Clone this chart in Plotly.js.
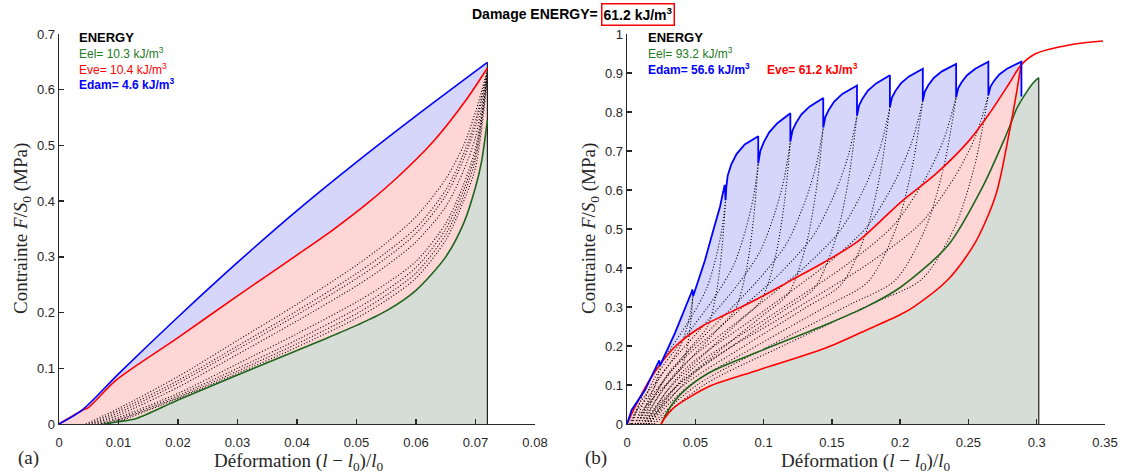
<!DOCTYPE html>
<html>
<head>
<meta charset="utf-8">
<script src="https://cdn.plot.ly/plotly-3.0.1.min.js"></script>
<style>html,body{margin:0;padding:0;background:#fff;}#chart{width:1121px;height:473px;}</style>
</head>
<body>
<div id="chart"></div>
<script>
// ---------- Panel (a) data ----------
const lBlueX = [0, 0.004, 0.01, 0.02, 0.03, 0.04, 0.05, 0.06, 0.072];
const lBlueY = [0, 0.026, 0.09, 0.192, 0.29, 0.383, 0.47, 0.553, 0.649];
const lRedX = [0, 0.004, 0.005, 0.0095, 0.02, 0.03, 0.0405, 0.0461, 0.0517, 0.0573, 0.0629, 0.0685, 0.072];
const lRedY = [0, 0.025, 0.03, 0.078, 0.155, 0.23, 0.307, 0.349, 0.395, 0.447, 0.507, 0.583, 0.639];
const lGreenX = [0.0076, 0.01, 0.013, 0.02, 0.03, 0.04, 0.045, 0.05, 0.055, 0.06, 0.065, 0.068, 0.07, 0.071, 0.072];
const lGreenY = [0, 0.004, 0.01, 0.043, 0.088, 0.132, 0.154, 0.177, 0.203, 0.24, 0.3, 0.36, 0.425, 0.47, 0.545];
const lEndX = 0.072, lEndTop = 0.649;
const lDotStart = [0.0045, 0.005, 0.0055, 0.006, 0.0065, 0.007, 0.0072, 0.0075];
const lDotGrid = [0.01, 0.02, 0.03, 0.04, 0.05, 0.055, 0.06, 0.065, 0.068, 0.07, 0.072];
const lDotY = [
  [0.028, 0.085, 0.15, 0.215, 0.285, 0.325, 0.372, 0.44, 0.5, 0.56, 0.636],
  [0.024, 0.078, 0.14, 0.203, 0.27, 0.308, 0.352, 0.42, 0.485, 0.545, 0.634],
  [0.02, 0.073, 0.134, 0.196, 0.261, 0.298, 0.342, 0.41, 0.475, 0.535, 0.632],
  [0.016, 0.066, 0.125, 0.185, 0.248, 0.284, 0.327, 0.39, 0.455, 0.515, 0.63],
  [0.012, 0.055, 0.108, 0.162, 0.219, 0.252, 0.292, 0.36, 0.43, 0.495, 0.628],
  [0.009, 0.051, 0.1, 0.151, 0.207, 0.24, 0.281, 0.35, 0.42, 0.485, 0.626],
  [0.007, 0.048, 0.095, 0.144, 0.198, 0.231, 0.271, 0.34, 0.41, 0.475, 0.624],
  [0.005, 0.046, 0.091, 0.138, 0.19, 0.222, 0.262, 0.33, 0.4, 0.46, 0.62]
];

// ---------- Panel (b) data ----------
const rBlueX = [0, 0.0034, 0.0132, 0.0229, 0.0236, 0.0242, 0.0351, 0.0474, 0.0479, 0.0485, 0.0571, 0.0632, 0.0681, 0.0715,
  0.0722, 0.0727, 0.0737, 0.0762, 0.0802, 0.0862, 0.0961,
  0.0961, 0.0966, 0.0976, 0.1001, 0.1041, 0.1101, 0.1196,
  0.1196, 0.1201, 0.1211, 0.1236, 0.1276, 0.1336, 0.1437,
  0.1437, 0.1442, 0.1452, 0.1477, 0.1517, 0.1577, 0.1684,
  0.1684, 0.1689, 0.1699, 0.1724, 0.1764, 0.1824, 0.1925,
  0.1925, 0.193, 0.194, 0.1965, 0.2005, 0.2065, 0.2166,
  0.2166, 0.2171, 0.2181, 0.2206, 0.2246, 0.2306, 0.241,
  0.241, 0.2415, 0.2425, 0.245, 0.249, 0.255, 0.2646,
  0.2646, 0.2651, 0.2661, 0.2686, 0.2726, 0.2786, 0.2888,
  0.2888];
const rBlueY = [0, 0.036, 0.087, 0.156, 0.163, 0.150, 0.233, 0.339, 0.345, 0.328, 0.42, 0.497, 0.557, 0.613,
  0.574, 0.6068, 0.6363, 0.6642, 0.6921, 0.7167, 0.738,
  0.668, 0.6835, 0.7003, 0.7222, 0.748, 0.7712, 0.797,
  0.724, 0.7374, 0.752, 0.771, 0.7934, 0.8136, 0.836,
  0.760, 0.773, 0.787, 0.8054, 0.827, 0.8464, 0.868,
  0.791, 0.8034, 0.8168, 0.8343, 0.8549, 0.8734, 0.894,
  0.812, 0.8239, 0.8368, 0.8536, 0.8734, 0.8912, 0.911,
  0.829, 0.8403, 0.8525, 0.8685, 0.8873, 0.9042, 0.923,
  0.838, 0.8489, 0.8608, 0.8762, 0.8944, 0.9108, 0.929,
  0.843, 0.8533, 0.8645, 0.8791, 0.8963, 0.9118, 0.929,
  0.840];
const rRedUpX = [0, 0.0059, 0.018, 0.0351, 0.0547, 0.0718, 0.0961, 0.1205, 0.145, 0.169, 0.2011, 0.2257, 0.2503, 0.2651, 0.2798, 0.2884, 0.2995, 0.324, 0.3485];
const rRedUpY = [0, 0.044, 0.121, 0.198, 0.25, 0.28, 0.322, 0.369, 0.416, 0.468, 0.571, 0.64, 0.726, 0.795, 0.873, 0.92, 0.95, 0.972, 0.982];
const rRedLowX = [0.025, 0.027, 0.03, 0.035, 0.06, 0.096, 0.145, 0.1755, 0.2, 0.2103, 0.2353, 0.2553, 0.2703, 0.2804, 0.2854, 0.2888];
const rRedLowY = [0, 0.012, 0.026, 0.044, 0.096, 0.138, 0.194, 0.241, 0.28, 0.301, 0.371, 0.467, 0.59, 0.757, 0.853, 0.925];
const rGreenX = [0.025, 0.0303, 0.04, 0.0595, 0.0961, 0.145, 0.1755, 0.2, 0.2353, 0.2604, 0.2753, 0.2803, 0.2854, 0.2929, 0.2975, 0.3015];
const rGreenY = [0, 0.036, 0.079, 0.13, 0.185, 0.254, 0.301, 0.35, 0.459, 0.608, 0.722, 0.764, 0.809, 0.853, 0.875, 0.888];
const rEndX = 0.3015, rEndTop = 0.888;
const rDotX = [
  [0.002, 0.0053, 0.0108, 0.0163, 0.0196, 0.0218, 0.0231, 0.024],
  [0.003, 0.0098, 0.0211, 0.0324, 0.0392, 0.0438, 0.0465, 0.0483],
  [0.004, 0.0142, 0.0313, 0.0483, 0.0586, 0.0654, 0.0695, 0.0722],
  [0.006, 0.0195, 0.042, 0.0646, 0.0781, 0.0871, 0.0925, 0.0961],
  [0.008, 0.0247, 0.0526, 0.0805, 0.0973, 0.1084, 0.1151, 0.1196],
  [0.010, 0.0301, 0.0635, 0.0969, 0.117, 0.1303, 0.1384, 0.1437],
  [0.012, 0.0355, 0.0746, 0.1137, 0.1371, 0.1528, 0.1621, 0.1684],
  [0.014, 0.0408, 0.0854, 0.13, 0.1568, 0.1747, 0.1854, 0.1925],
  [0.016, 0.0461, 0.0962, 0.1464, 0.1765, 0.1965, 0.2086, 0.2166],
  [0.018, 0.0515, 0.1072, 0.163, 0.1964, 0.2187, 0.2321, 0.241],
  [0.020, 0.0567, 0.1178, 0.179, 0.2157, 0.2401, 0.2548, 0.2646],
  [0.012, 0.0246, 0.0456, 0.0667, 0.0793, 0.0877, 0.0927, 0.0961],
  [0.014, 0.0298, 0.0562, 0.0826, 0.0985, 0.109, 0.1154, 0.1196],
  [0.016, 0.0352, 0.0671, 0.099, 0.1182, 0.1309, 0.1386, 0.1437],
  [0.008, 0.0176, 0.0337, 0.0497, 0.0594, 0.0658, 0.0696, 0.0722],
  [0.006, 0.0123, 0.0229, 0.0335, 0.0398, 0.0441, 0.0466, 0.0483],
  [0.008, 0.0321, 0.0722, 0.1123, 0.1363, 0.1524, 0.162, 0.1684],
  [0.010, 0.0374, 0.083, 0.1286, 0.156, 0.1743, 0.1852, 0.1925],
  [0.012, 0.0427, 0.0938, 0.145, 0.1757, 0.1961, 0.2084, 0.2166],
  [0.014, 0.0481, 0.1048, 0.1616, 0.1956, 0.2183, 0.2319, 0.241],
  [0.016, 0.0533, 0.1154, 0.1776, 0.2149, 0.2397, 0.2547, 0.2646]
];
const rDotY = [
  [0, 0.0255, 0.0495, 0.0735, 0.0915, 0.1125, 0.1305, 0.15],
  [0, 0.0558, 0.1082, 0.1607, 0.2001, 0.246, 0.2854, 0.328],
  [0, 0.0976, 0.1894, 0.2813, 0.3501, 0.4305, 0.4994, 0.574],
  [0, 0.1136, 0.2204, 0.3273, 0.4075, 0.501, 0.5812, 0.668],
  [0, 0.1231, 0.2389, 0.3548, 0.4416, 0.543, 0.6299, 0.724],
  [0, 0.1292, 0.2508, 0.3724, 0.4636, 0.57, 0.6612, 0.76],
  [0, 0.0949, 0.1938, 0.2887, 0.348, 0.4746, 0.6249, 0.791],
  [0, 0.0974, 0.1989, 0.2964, 0.3573, 0.4872, 0.6415, 0.812],
  [0, 0.0995, 0.2031, 0.3026, 0.3648, 0.4974, 0.6549, 0.829],
  [0, 0.1006, 0.2053, 0.3059, 0.3687, 0.5028, 0.662, 0.838],
  [0, 0.1012, 0.2065, 0.3077, 0.3709, 0.5058, 0.666, 0.843],
  [0, 0.0802, 0.1637, 0.2438, 0.2939, 0.4008, 0.5277, 0.668],
  [0, 0.0869, 0.1774, 0.2643, 0.3186, 0.4344, 0.572, 0.724],
  [0, 0.0912, 0.1862, 0.2774, 0.3344, 0.456, 0.6004, 0.76],
  [0, 0.0689, 0.1406, 0.2095, 0.2526, 0.3444, 0.4535, 0.574],
  [0, 0.0394, 0.0804, 0.1197, 0.1443, 0.1968, 0.2591, 0.328],
  [0, 0.1345, 0.261, 0.3876, 0.4825, 0.5933, 0.6882, 0.791],
  [0, 0.138, 0.268, 0.3979, 0.4953, 0.609, 0.7064, 0.812],
  [0, 0.1409, 0.2736, 0.4062, 0.5057, 0.6218, 0.7212, 0.829],
  [0, 0.1425, 0.2765, 0.4106, 0.5112, 0.6285, 0.7291, 0.838],
  [0, 0.1433, 0.2782, 0.4131, 0.5142, 0.6323, 0.7334, 0.843]
];

// ---------- Texts ----------
const titleMain = '<b>Damage ENERGY=</b>';
const titleBox = '<b>61.2 kJ/m<sup>3</sup></b>';
const leftTexts = ['<b>ENERGY</b>', 'Eel= 10.3 kJ/m<sup>3</sup>', 'Eve= 10.4 kJ/m<sup>3</sup>', '<b>Edam= 4.6 kJ/m<sup>3</sup></b>'];
const rightTexts = ['<b>ENERGY</b>', 'Eel= 93.2 kJ/m<sup>3</sup>', '<b>Edam= 56.6 kJ/m<sup>3</sup></b>', '<b>Eve= 61.2 kJ/m<sup>3</sup></b>'];
const xTitle = 'Déformation (<i>l</i> − <i>l</i><sub>0</sub>)/<i>l</i><sub>0</sub>';
const yTitle = 'Contrainte <i>F</i>/<i>S</i><sub>0</sub> (MPa)';

// ---------- Styles ----------
const W = 1121, H = 473;
const BLUE = '#0000ff', RED = '#ff0000', GREEN = '#1d661d', TXTGREEN = '#237a23';
const FBLUE = 'rgb(214,214,251)', FPINK = 'rgb(255,214,214)', FGRAY = 'rgb(214,221,214)';
const DOT = {color: '#000', width: 1.1, dash: '1px,2px'};
const SANS = 'Liberation Sans, Arial, sans-serif';
const SERIF = 'Liberation Serif, Times New Roman, serif';

function fillTr(x, y, color, xa, ya, shape) {
  return {x: x, y: y, xaxis: xa, yaxis: ya, type: 'scatter', mode: 'lines', fill: 'tozeroy',
    fillcolor: color, line: {width: 0, shape: shape || 'spline', smoothing: 0.8}, hoverinfo: 'skip'};
}
function lineTr(x, y, color, width, xa, ya, shape) {
  return {x: x, y: y, xaxis: xa, yaxis: ya, type: 'scatter', mode: 'lines',
    line: {color: color, width: width, shape: shape || 'spline', smoothing: 0.8}, hoverinfo: 'skip'};
}

const traces = [];
// Panel a
traces.push(fillTr(lBlueX, lBlueY, FBLUE, 'x', 'y'));
traces.push(fillTr(lRedX, lRedY, FPINK, 'x', 'y'));
traces.push(fillTr(lGreenX, lGreenY, FGRAY, 'x', 'y'));
lDotY.forEach((row, i) => {
  traces.push({x: [lDotStart[i]].concat(lDotGrid), y: [0].concat(row), xaxis: 'x', yaxis: 'y', type: 'scatter', mode: 'lines',
    line: Object.assign({shape: 'spline', smoothing: 0.8}, DOT), hoverinfo: 'skip'});
});
traces.push(lineTr([lEndX, lEndX], [0, lEndTop], '#222', 1.2, 'x', 'y', 'linear'));
traces.push(lineTr(lGreenX, lGreenY, GREEN, 1.6, 'x', 'y'));
traces.push(lineTr(lRedX, lRedY, RED, 1.6, 'x', 'y'));
traces.push(lineTr(lBlueX, lBlueY, BLUE, 1.6, 'x', 'y'));

// Panel b
const nUp = rRedUpX.indexOf(0.2884) + 1;
traces.push(fillTr(rBlueX, rBlueY, FBLUE, 'x2', 'y2', 'linear'));
traces.push(fillTr(rRedUpX.slice(0, nUp), rRedUpY.slice(0, nUp), FPINK, 'x2', 'y2'));
traces.push(fillTr(rRedLowX, rRedLowY, FGRAY, 'x2', 'y2'));
const gStart = rGreenX.indexOf(0.2803);
traces.push(fillTr(rGreenX.slice(gStart), rGreenY.slice(gStart), FGRAY, 'x2', 'y2'));
rDotX.forEach((xs, i) => {
  traces.push({x: xs, y: rDotY[i], xaxis: 'x2', yaxis: 'y2', type: 'scatter', mode: 'lines',
    line: Object.assign({shape: 'spline', smoothing: 0.8}, DOT), hoverinfo: 'skip'});
});
traces.push(lineTr([rEndX, rEndX], [0, rEndTop], '#222', 1.2, 'x2', 'y2', 'linear'));
traces.push(lineTr(rGreenX, rGreenY, GREEN, 1.6, 'x2', 'y2'));
traces.push(lineTr(rRedLowX, rRedLowY, RED, 1.6, 'x2', 'y2'));
traces.push(lineTr(rRedUpX, rRedUpY, RED, 1.6, 'x2', 'y2'));
traces.push(lineTr(rBlueX, rBlueY, BLUE, 1.8, 'x2', 'y2', 'linear'));

function px(v) { return v / W; }
function py(v) { return 1 - v / H; }

const axisBase = {
  showgrid: false, zeroline: false, showline: true, linecolor: '#262626', linewidth: 1.3,
  ticks: 'inside', ticklen: 5, tickwidth: 1.3, tickcolor: '#262626', mirror: false,
  tickfont: {family: SANS, size: 13, color: '#262626'}, fixedrange: true
};

function ann(text, x, y, opts) {
  return Object.assign({text: text, x: px(x), y: py(y), xref: 'paper', yref: 'paper', showarrow: false,
    xanchor: 'left', yanchor: 'middle', font: {family: SANS, size: 12, color: '#000'}}, opts || {});
}

const annotations = [
  ann(titleMain, 600, 14, {xanchor: 'right', font: {family: SANS, size: 14, color: '#000'}}),
  ann(titleBox, 601, 14, {font: {family: SANS, size: 14, color: '#000'}, bordercolor: '#ff0000', borderwidth: 1.5, borderpad: 1}),
  ann(leftTexts[0], 77, 37, {font: {family: SANS, size: 13, color: '#000'}}),
  ann(leftTexts[1], 77, 53, {font: {family: SANS, size: 12, color: TXTGREEN}}),
  ann(leftTexts[2], 77, 69, {font: {family: SANS, size: 12, color: RED}}),
  ann(leftTexts[3], 77, 84, {font: {family: SANS, size: 12, color: BLUE}}),
  ann(rightTexts[0], 646, 37, {font: {family: SANS, size: 13, color: '#000'}}),
  ann(rightTexts[1], 646, 53, {font: {family: SANS, size: 12, color: TXTGREEN}}),
  ann(rightTexts[2], 646, 69, {font: {family: SANS, size: 12, color: BLUE}}),
  ann(rightTexts[3], 765, 69, {font: {family: SANS, size: 12, color: RED}}),
  ann(xTitle, 299, 462, {xanchor: 'center', font: {family: SERIF, size: 19, color: '#262626'}}),
  ann(xTitle, 866, 462, {xanchor: 'center', font: {family: SERIF, size: 19, color: '#262626'}}),
  ann(yTitle, 22, 229, {xanchor: 'center', textangle: -90, font: {family: SERIF, size: 19, color: '#262626'}}),
  ann(yTitle, 590, 229, {xanchor: 'center', textangle: -90, font: {family: SERIF, size: 19, color: '#262626'}}),
  ann('(a)', 28, 458, {xanchor: 'center', font: {family: SERIF, size: 19, color: '#262626'}}),
  ann('(b)', 596, 458, {xanchor: 'center', font: {family: SERIF, size: 19, color: '#262626'}})
];

const yDom = [1 - 424 / H, 1 - 34 / H];
const layout = {
  width: W, height: H, margin: {l: 0, r: 0, t: 0, b: 0}, showlegend: false,
  paper_bgcolor: '#fff', plot_bgcolor: '#fff',
  xaxis: Object.assign({}, axisBase, {domain: [59 / W, 535 / W], range: [0, 0.08], dtick: 0.01, tick0: 0, anchor: 'y', ticklabelstandoff: 6}),
  yaxis: Object.assign({}, axisBase, {domain: yDom, range: [0, 0.7], dtick: 0.1, tick0: 0, anchor: 'x'}),
  xaxis2: Object.assign({}, axisBase, {domain: [627 / W, 1105 / W], range: [0, 0.35], dtick: 0.05, tick0: 0, anchor: 'y2', ticklabelstandoff: 6}),
  yaxis2: Object.assign({}, axisBase, {domain: yDom, range: [0, 1], dtick: 0.1, tick0: 0, anchor: 'x2'}),
  annotations: annotations
};

Plotly.newPlot('chart', traces, layout, {displayModeBar: false, staticPlot: true});
</script>
</body>
</html>
